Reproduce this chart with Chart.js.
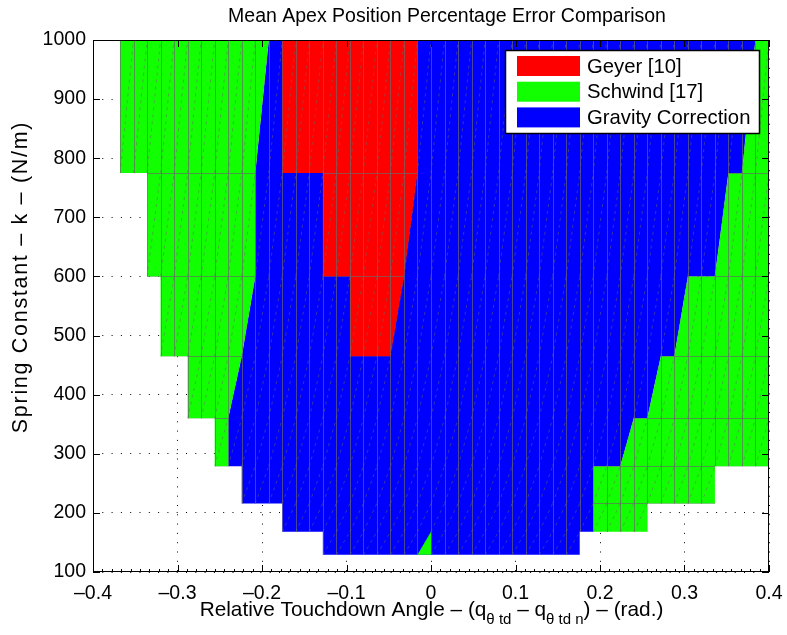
<!DOCTYPE html>
<html>
<head>
<meta charset="utf-8">
<script src="https://cdn.jsdelivr.net/npm/chart.js@4.4.1/dist/chart.umd.min.js"></script>
<style>
  html, body { margin: 0; padding: 0; background: #fff; }
  #wrap { width: 787px; height: 635px; }
</style>
</head>
<body>
<div id="wrap"><canvas id="chart" width="787" height="635"></canvas></div>
<script>
// axis ticks
const xTicks = [-0.4, -0.3, -0.2, -0.1, 0, 0.1, 0.2, 0.3, 0.4];
const xTickLabels = ["\u20130.4", "\u20130.3", "\u20130.2", "\u20130.1", "0", "0.1", "0.2", "0.3", "0.4"];
const yTicks = [100, 200, 300, 400, 500, 600, 700, 800, 900, 1000];
const xMinorPerMajor = 9;

// patch grid: row edges in k (N/m) and column width in rad
const rowEdges = [1000, 775, 600, 465, 360, 279, 216, 168, 129];
const colStep = 0.016;

// region outlines (touchdown angle, spring constant)
const geyerX = [-0.176, -0.016, -0.016, -0.032, -0.048, -0.096, -0.096, -0.128, -0.128, -0.176];
const geyerY = [1000, 1000, 775, 600, 465, 465, 600, 600, 775, 775];

const schwindLeftX = [-0.368, -0.192, -0.208, -0.208, -0.224, -0.240, -0.240, -0.256, -0.256, -0.288, -0.288, -0.320, -0.320, -0.336, -0.336, -0.368];
const schwindLeftY = [1000, 1000, 775, 600, 465, 360, 279, 279, 360, 360, 465, 465, 600, 600, 775, 775];

const schwindRightX = [0.384, 0.4, 0.4, 0.336, 0.336, 0.256, 0.256, 0.192, 0.192, 0.224, 0.240, 0.256, 0.272, 0.288, 0.304, 0.336, 0.352, 0.368];
const schwindRightY = [1000, 1000, 279, 279, 216, 216, 168, 168, 279, 279, 360, 360, 465, 465, 600, 600, 775, 775];

const schwindTipX = [-0.016, 0, 0];
const schwindTipY = [129, 129, 168];

const gravityX = [-0.192, 0.384, 0.368, 0.352, 0.336, 0.304, 0.288, 0.272, 0.256, 0.240, 0.224, 0.192, 0.192, 0.176, 0.176, -0.128, -0.128, -0.176, -0.176, -0.224, -0.224, -0.240, -0.240, -0.224, -0.208, -0.208];
const gravityY = [1000, 1000, 775, 775, 600, 600, 465, 465, 360, 360, 279, 279, 168, 168, 129, 129, 168, 168, 216, 216, 279, 279, 360, 465, 600, 775];

const FONT = "'Liberation Sans', Arial, Helvetica, sans-serif";

function toPoints(xs, ys) {
    return xs.map((x, i) => ({ x: x, y: ys[i] }));
}

function polygon(label, xs, ys, color, rowLines) {
    return {
        label: label,
        data: toPoints(xs, ys),
        backgroundColor: color,
        borderColor: color,
        pointRadius: 0,
        showLine: false,
        rowLines: rowLines
    };
}

// fills every dataset as a closed patch, using the points the scales placed
const patchPlugin = {
    id: "patches",
    beforeDatasetsDraw(chart) {
        const { ctx, chartArea: a, scales: { x, y } } = chart;
        ctx.save();
        ctx.beginPath();
        ctx.rect(a.left, a.top, a.width, a.height);
        ctx.clip();

        for (let i = chart.data.datasets.length - 1; i >= 0; i--) {
            const ds = chart.data.datasets[i];
            const pts = chart.getDatasetMeta(i).data;
            const trace = () => {
                ctx.beginPath();
                pts.forEach((p, j) => j === 0 ? ctx.moveTo(p.x, p.y) : ctx.lineTo(p.x, p.y));
                ctx.closePath();
            };
            trace();
            ctx.fillStyle = ds.backgroundColor;
            ctx.fill();

            // patch cell edges inside the region
            ctx.save();
            trace();
            ctx.clip();
            ctx.lineWidth = 1;
            ctx.strokeStyle = "rgba(105,105,105,0.68)";
            ctx.beginPath();
            for (let v = -0.4; v <= 0.4001; v += colStep) {
                const px = Math.round(x.getPixelForValue(v)) + 0.5;
                ctx.moveTo(px, a.top);
                ctx.lineTo(px, a.bottom);
            }
            if (ds.rowLines) {
                rowEdges.forEach(k => {
                    const py = Math.round(y.getPixelForValue(k)) + 0.5;
                    ctx.moveTo(a.left, py);
                    ctx.lineTo(a.right, py);
                });
            }
            ctx.stroke();

            // triangle split of each cell
            ctx.strokeStyle = "rgba(105,105,105,0.5)";
            ctx.setLineDash([3, 4]);
            ctx.beginPath();
            for (let r = 0; r < rowEdges.length - 1; r++) {
                const yTop = y.getPixelForValue(rowEdges[r]);
                const yBot = y.getPixelForValue(rowEdges[r + 1]);
                for (let v = -0.4; v < 0.4; v += colStep) {
                    ctx.moveTo(x.getPixelForValue(v), yBot);
                    ctx.lineTo(x.getPixelForValue(v + colStep), yTop);
                }
            }
            ctx.stroke();
            ctx.restore();
        }
        ctx.restore();
    },

    afterDraw(chart) {
        const { ctx, chartArea: a, scales: { x, y } } = chart;
        ctx.save();

        // axes box and inward ticks
        ctx.strokeStyle = "#000";
        ctx.lineWidth = 1;
        ctx.strokeRect(a.left + 0.5, a.top + 0.5, a.width - 1, a.height - 1);
        ctx.beginPath();
        xTicks.forEach((v, i) => {
            const px = Math.round(x.getPixelForValue(v)) + 0.5;
            ctx.moveTo(px, a.bottom); ctx.lineTo(px, a.bottom - 7);
            ctx.moveTo(px, a.top); ctx.lineTo(px, a.top + 7);
            if (i < xTicks.length - 1) {
                const step = (xTicks[i + 1] - v) / xMinorPerMajor;
                for (let m = 1; m < xMinorPerMajor; m++) {
                    const mx = Math.round(x.getPixelForValue(v + m * step)) + 0.5;
                    ctx.moveTo(mx, a.bottom); ctx.lineTo(mx, a.bottom - 3);
                }
            }
        });
        yTicks.forEach(v => {
            const py = Math.round(y.getPixelForValue(v)) + 0.5;
            ctx.moveTo(a.left, py); ctx.lineTo(a.left + 7, py);
            ctx.moveTo(a.right, py); ctx.lineTo(a.right - 7, py);
        });
        ctx.stroke();

        // title
        ctx.fillStyle = "#000";
        ctx.textBaseline = "middle";
        ctx.textAlign = "center";
        ctx.font = "19.5px " + FONT;
        ctx.fillText("Mean Apex Position Percentage Error Comparison", 447, 17);

        // y axis title
        ctx.save();
        ctx.translate(21, 277);
        ctx.rotate(-Math.PI / 2);
        ctx.font = "21.5px " + FONT;
        ctx.letterSpacing = "1.7px";
        ctx.fillText("Spring Constant \u2013 k \u2013 (N/m)", 0, 0);
        ctx.restore();

        // x axis title with subscripts
        const big = "20.8px " + FONT, small = "15px " + FONT;
        const parts = [
            ["Relative Touchdown Angle \u2013 (q", big, 0],
            ["\u03b8 td", small, 8],
            [" \u2013 q", big, 0],
            ["\u03b8 td n", small, 8],
            [") \u2013 (rad.)", big, 0]
        ];
        let total = 0;
        parts.forEach(p => { ctx.font = p[1]; total += ctx.measureText(p[0]).width; });
        let cx = 431.5 - total / 2;
        ctx.textAlign = "left";
        ctx.textBaseline = "alphabetic";
        parts.forEach(p => {
            ctx.font = p[1];
            ctx.fillText(p[0], cx, 616 + p[2]);
            cx += ctx.measureText(p[0]).width;
        });

        // legend
        const lx = 505, ly = 50, lw = 254, lh = 83;
        ctx.fillStyle = "#fff";
        ctx.fillRect(lx, ly, lw, lh);
        ctx.strokeStyle = "#000";
        ctx.lineWidth = 1.5;
        ctx.strokeRect(lx + 0.5, ly + 0.5, lw, lh);
        ctx.font = "20.3px " + FONT;
        ctx.textBaseline = "middle";
        const items = chart.data.datasets.filter((d, i, arr) => arr.findIndex(o => o.label === d.label) === i);
        items.forEach((d, i) => {
            const cy = ly + 16 + i * 25.7;
            ctx.fillStyle = d.backgroundColor;
            ctx.fillRect(lx + 12, cy - 10, 63, 20);
            ctx.fillStyle = "#000";
            ctx.fillText(d.label, lx + 82, cy + 1);
        });
        ctx.restore();
    }
};

const datasets = [
    polygon("Geyer [10]", geyerX, geyerY, "#ff0000", true),
    polygon("Schwind [17]", schwindLeftX, schwindLeftY, "#11ff00", true),
    polygon("Schwind [17]", schwindRightX, schwindRightY, "#11ff00", true),
    polygon("Schwind [17]", schwindTipX, schwindTipY, "#11ff00", true),
    polygon("Gravity Correction", gravityX, gravityY, "#0000ff", false)
];

new Chart(document.getElementById("chart"), {
    type: "scatter",
    data: { datasets: datasets },
    plugins: [patchPlugin],
    options: {
        responsive: false,
        animation: false,
        events: [],
        layout: { padding: { top: 40, right: 18, left: 0, bottom: 0 } },
        plugins: { legend: { display: false }, tooltip: { enabled: false }, title: { display: false } },
        scales: {
            x: {
                type: "linear",
                min: -0.4,
                max: 0.4,
                afterBuildTicks: s => { s.ticks = xTicks.map(v => ({ value: v })); },
                afterFit: s => { s.height = 63; s.paddingLeft = 0; s.paddingRight = 0; },
                ticks: {
                    callback: (v, i) => xTickLabels[i],
                    font: { family: FONT, size: 19.5 },
                    color: "#000",
                    padding: 10,
                    maxRotation: 0,
                    autoSkip: false
                },
                grid: { color: "#000", drawTicks: false, lineWidth: 1 },
                border: { display: false, dash: [1, 8.3] }
            },
            y: {
                type: "linear",
                min: 100,
                max: 1000,
                afterBuildTicks: s => { s.ticks = yTicks.map(v => ({ value: v })); },
                afterFit: s => { s.width = 93; s.paddingTop = 0; s.paddingBottom = 0; },
                ticks: {
                    callback: v => String(v),
                    font: { family: FONT, size: 19.5 },
                    color: "#000",
                    padding: 7
                },
                grid: { color: "#000", drawTicks: false, lineWidth: 1 },
                border: { display: false, dash: [1, 8.3] }
            }
        }
    }
});
</script>
</body>
</html>
